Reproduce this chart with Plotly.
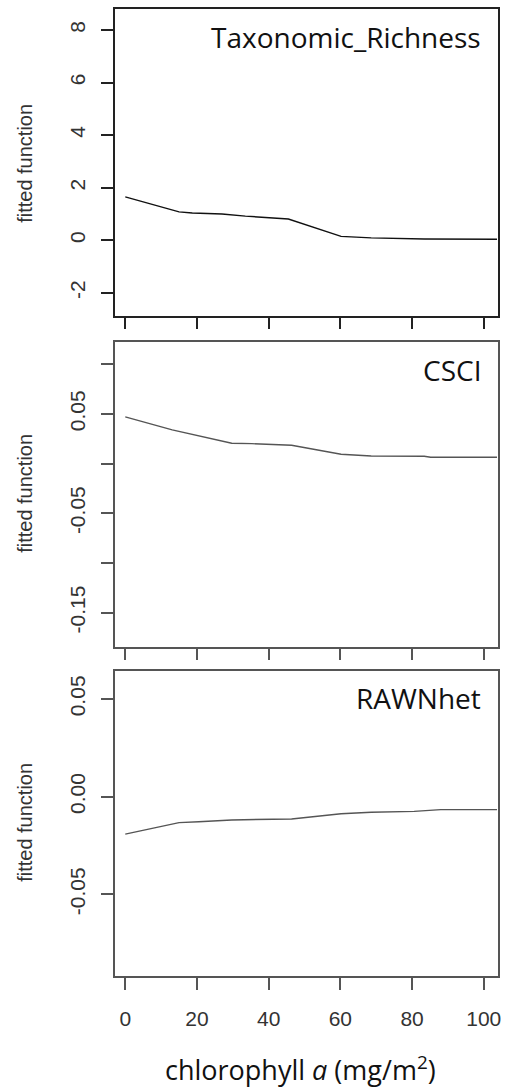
import plotly.graph_objects as go

# chlorophyll a (mg/m2) and fitted partial dependence
chl_rich = [0, 15.0, 18.7, 27.0, 33.5, 40.8, 45.5, 60.2, 68.6, 83.4, 103.7]
fit_rich = [1.65, 1.08, 1.04, 1.00, 0.92, 0.87, 0.81, 0.15, 0.09, 0.05, 0.04]

chl_csci = [0, 13.1, 29.7, 35.3, 46.4, 60.2, 68.6, 83.4, 85.2, 103.7]
fit_csci = [0.047, 0.034, 0.0205, 0.0201, 0.0185, 0.0094, 0.0077, 0.0074, 0.0064, 0.0064]

chl_rawn = [0, 15.0, 20.5, 29.7, 46.4, 60.2, 68.6, 80.6, 88.0, 103.7]
fit_rawn = [-0.0192, -0.0133, -0.0128, -0.0119, -0.0114, -0.0087, -0.0080, -0.0075, -0.0066, -0.0066]

panel_names = ["Taxonomic_Richness", "CSCI", "RAWNhet"]
x_ticks = [0, 20, 40, 60, 80, 100]
y_ticks_rich = [-2, 0, 2, 4, 6, 8]
y_ticks_csci = [-0.15, -0.05, 0.05]
y_text_csci = ["-0.15", "-0.05", "0.05"]
y_minor_csci = [-0.10, 0.0, 0.10]   # unlabelled ticks (R drops the crowded labels)
y_ticks_rawn = [-0.05, 0.0, 0.05]
y_text_rawn = ["-0.05", "0.00", "0.05"]

W, H = 505, 1087
fig = go.Figure()

xdom = [115.7 / W, 500.7 / W]
ydoms = [
    [1 - 315.7 / H, 1 - 9.3 / H],
    [1 - 646.5 / H, 1 - 341.7 / H],
    [1 - 976 / H, 1 - 670.7 / H],
]
yranges = [[-2.87, 8.79], [-0.184, 0.1227], [-0.0918, 0.0645]]
frame_cols = ["#222222", "#555555", "#555555"]
line_cols = ["#111111", "#555555", "#555555"]
xs = [chl_rich, chl_csci, chl_rawn]
ys = [fit_rich, fit_csci, fit_rawn]
yticks = [(y_ticks_rich, [str(v) for v in y_ticks_rich], None),
          (y_ticks_csci, y_text_csci, y_minor_csci),
          (y_ticks_rawn, y_text_rawn, None)]
name_y = [37, 370, 698]
title_y = [163, 493, 822]

tickfont = dict(family="Liberation Sans, Arial", size=21, color="#333333")

for i in range(3):
    sfx = "" if i == 0 else str(i + 1)
    fig.add_trace(go.Scatter(x=xs[i], y=ys[i], mode="lines",
                             line=dict(color=line_cols[i], width=1.4),
                             xaxis="x" + sfx, yaxis="y" + sfx, showlegend=False))
    fig.layout["xaxis" + sfx] = dict(
        domain=xdom, anchor="y" + sfx, range=[-2.86, 103.9],
        tickvals=x_ticks, showticklabels=(i == 2), ticks="outside",
        ticklen=12, tickwidth=1.5, tickcolor=frame_cols[i],
        showline=True, linecolor=frame_cols[i], linewidth=1.5, mirror=True,
        showgrid=False, zeroline=False, tickfont=tickfont, ticklabelstandoff=11,
    )
    yax = dict(
        domain=ydoms[i], anchor="x" + sfx, range=yranges[i],
        tickvals=yticks[i][0], ticktext=yticks[i][1], tickangle=-90,
        ticks="outside", ticklen=12, tickwidth=1.5, tickcolor=frame_cols[i],
        showline=True, linecolor=frame_cols[i], linewidth=1.5, mirror=True,
        showgrid=False, zeroline=False, tickfont=tickfont, ticklabelstandoff=8,
    )
    if yticks[i][2] is not None:
        yax["minor"] = dict(tickmode="array", tickvals=yticks[i][2], ticks="outside",
                            ticklen=12, tickwidth=1.5, tickcolor=frame_cols[i],
                            showgrid=False)
    fig.layout["yaxis" + sfx] = yax
    fig.add_annotation(text=panel_names[i], x=486 / W, y=1 - name_y[i] / H,
                       xref="paper", yref="paper", xanchor="right", yanchor="middle",
                       showarrow=False,
                       font=dict(family="Open Sans", size=28, color="#111111"))
    fig.add_annotation(text="fitted function", x=25 / W, y=1 - title_y[i] / H,
                       xref="paper", yref="paper", textangle=-90,
                       xanchor="center", yanchor="middle", showarrow=False,
                       font=dict(family="Liberation Sans, Arial", size=20, color="#333333"))

fig.add_annotation(text="chlorophyll <i>a</i> (mg/m<sup>2</sup>)", x=302 / W, y=1 - 1068 / H,
                   xref="paper", yref="paper", xanchor="center", yanchor="middle",
                   showarrow=False,
                   font=dict(family="Open Sans", size=27, color="#111111"))

fig.update_layout(width=W, height=H, margin=dict(l=0, r=0, t=0, b=0),
                  paper_bgcolor="white", plot_bgcolor="white")

fig.write_html("out.html", config={"displayModeBar": False},
               post_script="document.body.style.margin='0';document.body.style.overflow='hidden';")
